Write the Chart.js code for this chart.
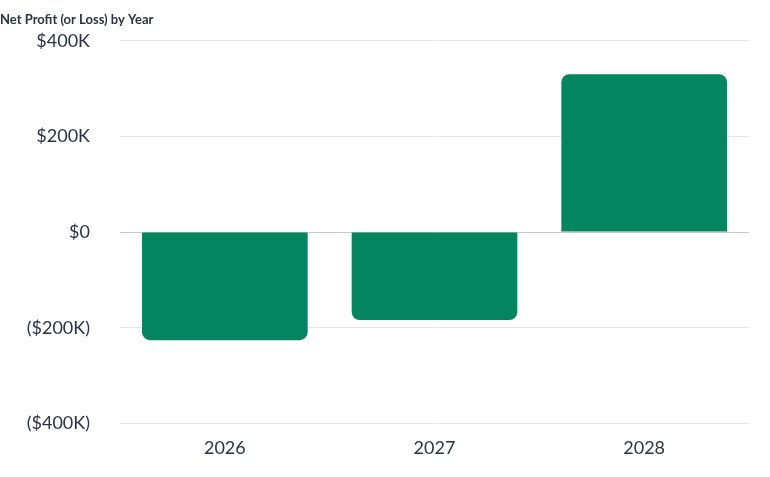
<!DOCTYPE html>
<html><head><meta charset="utf-8">
<script src="https://cdn.jsdelivr.net/npm/chart.js@4"></script>
<style>body{margin:0;background:#fff}#w{width:770px;height:477px;position:relative}</style>
</head><body><div id="w"><canvas id="c"></canvas></div>
<script>
const categories = ["2026","2027","2028"];
const netProfit = [-226000,-184000,330000];
const tickValues = [-400000,-200000,0,200000,400000];
function fmt(v){ if(v===0) return "$0"; const k=Math.abs(v)/1000+"K"; return v<0?"($"+k+")":"$"+k; }
new Chart(document.getElementById('c'),{
 type:'bar',
 data:{labels:categories,datasets:[{data:netProfit,backgroundColor:'#038560',
   borderRadius:8,borderSkipped:'start',categoryPercentage:0.79,barPercentage:1}]},
 options:{responsive:true,maintainAspectRatio:false,animation:false,
  layout:{padding:{left:0,right:21,top:0,bottom:12}},
  plugins:{legend:{display:false},tooltip:{enabled:false},
   title:{display:true,text:'Net Profit (or Loss) by Year',align:'start',color:'#2a3345',font:{family:'Lato',size:13,weight:'bold'},padding:{top:0,bottom:13}}},
  scales:{
   x:{grid:{display:false},border:{display:false},ticks:{color:'#2a3345',font:{family:'Lato',size:18},padding:6}},
   y:{min:-400000,max:400000,afterBuildTicks:a=>{a.ticks=tickValues.map(v=>({value:v}));},
      afterFit:s=>{s.width=120;},
      grid:{color:ctx=>ctx.tick&&ctx.tick.value===0?'#c8c8c8':'#e6e6e6',drawTicks:false},border:{display:false},
      ticks:{color:'#2a3345',font:{family:'Lato',size:18},padding:30,callback:v=>fmt(v)}}
  }}
});
</script></body></html>
